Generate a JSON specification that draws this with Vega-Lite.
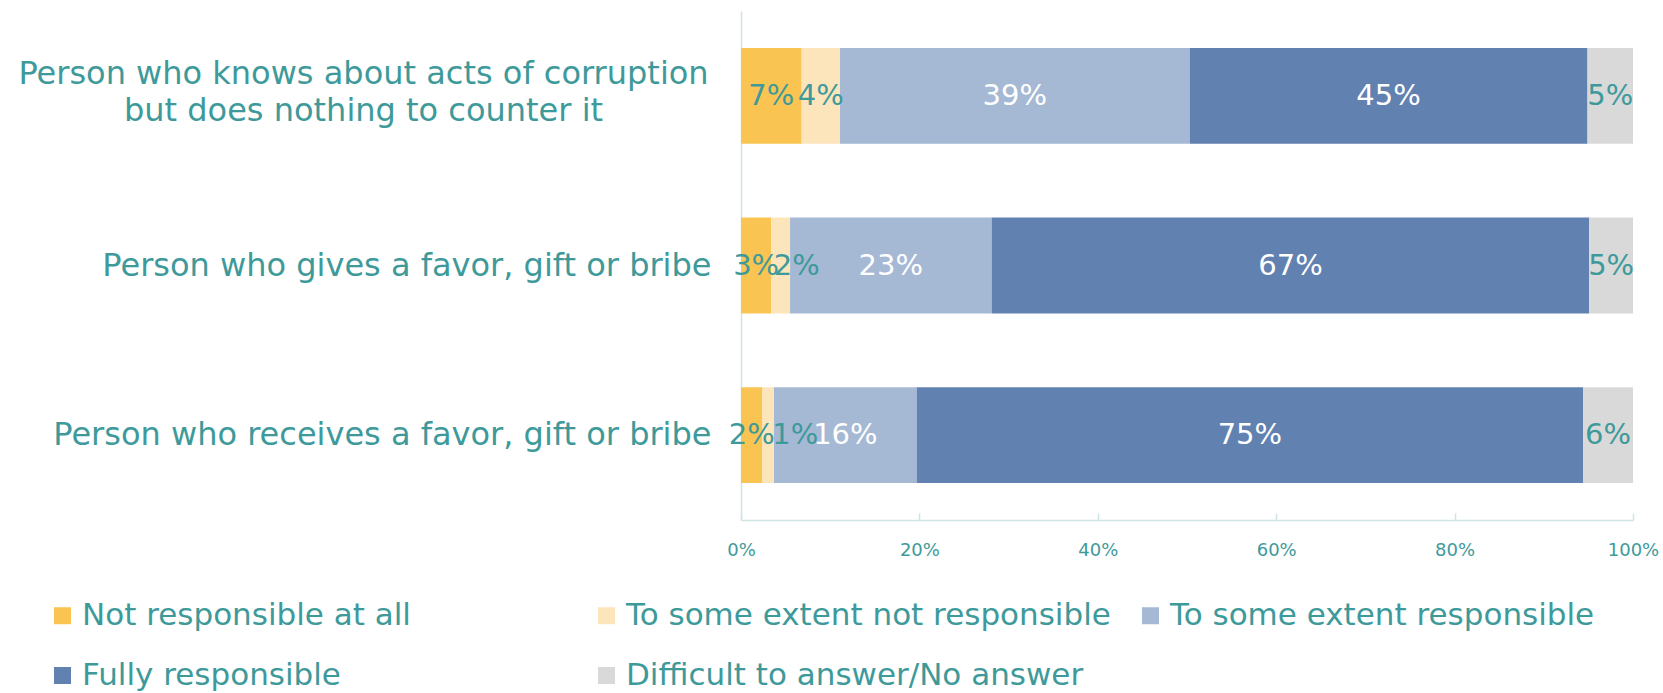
{
  "$schema": "https://vega.github.io/schema/vega-lite/v6.json",
  "width": 892,
  "height": 509,
  "autosize": {"type": "none"},
  "padding": {"left": 741, "top": 11, "right": 30, "bottom": 173},
  "background": "white",
  "config": {"view": {"stroke": null}, "font": "DejaVu Sans"},
  "data": {
    "values": [
      {"q": "Person who knows about acts of corruption|but does nothing to counter it", "cat": "Not responsible at all", "k": 1, "v": 0.068},
      {"q": "Person who knows about acts of corruption|but does nothing to counter it", "cat": "To some extent not responsible", "k": 2, "v": 0.043},
      {"q": "Person who knows about acts of corruption|but does nothing to counter it", "cat": "To some extent responsible", "k": 3, "v": 0.392},
      {"q": "Person who knows about acts of corruption|but does nothing to counter it", "cat": "Fully responsible", "k": 4, "v": 0.446},
      {"q": "Person who knows about acts of corruption|but does nothing to counter it", "cat": "Difficult to answer/No answer", "k": 5, "v": 0.051},
      {"q": "Person who gives a favor, gift or bribe", "cat": "Not responsible at all", "k": 1, "v": 0.034},
      {"q": "Person who gives a favor, gift or bribe", "cat": "To some extent not responsible", "k": 2, "v": 0.021},
      {"q": "Person who gives a favor, gift or bribe", "cat": "To some extent responsible", "k": 3, "v": 0.226},
      {"q": "Person who gives a favor, gift or bribe", "cat": "Fully responsible", "k": 4, "v": 0.670},
      {"q": "Person who gives a favor, gift or bribe", "cat": "Difficult to answer/No answer", "k": 5, "v": 0.049},
      {"q": "Person who receives a favor, gift or bribe", "cat": "Not responsible at all", "k": 1, "v": 0.024},
      {"q": "Person who receives a favor, gift or bribe", "cat": "To some extent not responsible", "k": 2, "v": 0.013},
      {"q": "Person who receives a favor, gift or bribe", "cat": "To some extent responsible", "k": 3, "v": 0.160},
      {"q": "Person who receives a favor, gift or bribe", "cat": "Fully responsible", "k": 4, "v": 0.747},
      {"q": "Person who receives a favor, gift or bribe", "cat": "Difficult to answer/No answer", "k": 5, "v": 0.056}
    ]
  },
  "transform": [
    {"stack": "v", "groupby": ["q"], "sort": [{"field": "k", "order": "ascending"}], "as": ["x0", "x1"]},
    {"calculate": "(datum.x0 + datum.x1) / 2", "as": "xm"}
  ],
  "encoding": {
    "y": {
      "field": "q",
      "type": "nominal",
      "sort": null,
      "scale": {"paddingInner": 0.435, "paddingOuter": 0.2175},
      "axis": {
        "title": null,
        "ticks": false,
        "domainColor": "#CFE5E5",
        "domainWidth": 1.5,
        "labelFontSize": 32,
        "labelColor": "#3E9A9A",
        "labelLimit": 900,
        "labelLineHeight": 37,
        "labelExpr": "split(datum.label, '|')",
        "labelAlign": {"condition": {"test": "indexof(datum.value, '|') >= 0", "value": "center"}, "value": "right"},
        "labelPadding": {"condition": {"test": "indexof(datum.value, '|') >= 0", "value": 378}, "value": 30},
        "labelOffset": {"condition": {"test": "indexof(datum.value, '|') >= 0", "value": -22}, "value": 0}
      }
    }
  },
  "layer": [
    {
      "mark": {"type": "bar"},
      "encoding": {
        "x": {
          "field": "x0",
          "type": "quantitative",
          "scale": {"domain": [0, 1], "nice": false},
          "axis": {
            "title": null,
            "grid": false,
            "format": ".0%",
            "values": [0, 0.2, 0.4, 0.6, 0.8, 1],
            "domainColor": "#CFE5E5",
            "domainWidth": 1.5,
            "tickColor": "#CFE5E5",
            "tickWidth": 1.5,
            "tickSize": -7,
            "labelPadding": 28,
            "labelFontSize": 18,
            "labelColor": "#3E9A9A",
            "labelFlush": false
          }
        },
        "x2": {"field": "x1"},
        "color": {
          "field": "cat",
          "type": "nominal",
          "sort": ["Not responsible at all", "To some extent not responsible", "To some extent responsible", "Fully responsible", "Difficult to answer/No answer"],
          "scale": {
            "domain": ["Not responsible at all", "To some extent not responsible", "To some extent responsible", "Fully responsible", "Difficult to answer/No answer"],
            "range": ["#F9C452", "#FCE5BA", "#A5B8D4", "#6181B1", "#D9D9D9"]
          },
          "legend": {
            "title": null,
            "orient": "none",
            "legendX": -694,
            "legendY": 589,
            "direction": "horizontal",
            "columns": 3,
            "gridAlign": "all",
            "symbolType": "square",
            "symbolSize": 289,
            "symbolStrokeWidth": 0,
            "labelFontSize": 31,
            "labelColor": "#3E9A9A",
            "labelOffset": 4,
            "labelLimit": 1000,
            "columnPadding": 24,
            "rowPadding": 28,
            "padding": 0
          }
        }
      }
    },
    {
      "mark": {
        "type": "text",
        "fontSize": 29,
        "align": "center",
        "baseline": "middle",
        "dx": {"expr": "datum.k === 2 && datum.v < 0.02 ? 27 : (datum.k === 2 && datum.v < 0.03 ? 16 : 0)"}
      },
      "encoding": {
        "x": {
          "field": "xm",
          "type": "quantitative",
          "axis": {
            "title": null,
            "grid": false,
            "format": ".0%",
            "values": [0, 0.2, 0.4, 0.6, 0.8, 1],
            "domainColor": "#CFE5E5",
            "domainWidth": 1.5,
            "tickColor": "#CFE5E5",
            "tickWidth": 1.5,
            "tickSize": -7,
            "labelPadding": 28,
            "labelFontSize": 18,
            "labelColor": "#3E9A9A",
            "labelFlush": false
          }
        },
        "text": {"field": "v", "type": "quantitative", "format": ".0%"},
        "color": {
          "condition": {"test": "datum.cat === 'To some extent responsible' || datum.cat === 'Fully responsible'", "value": "#FFFFFF"},
          "value": "#3E9A9A"
        }
      }
    }
  ]
}
